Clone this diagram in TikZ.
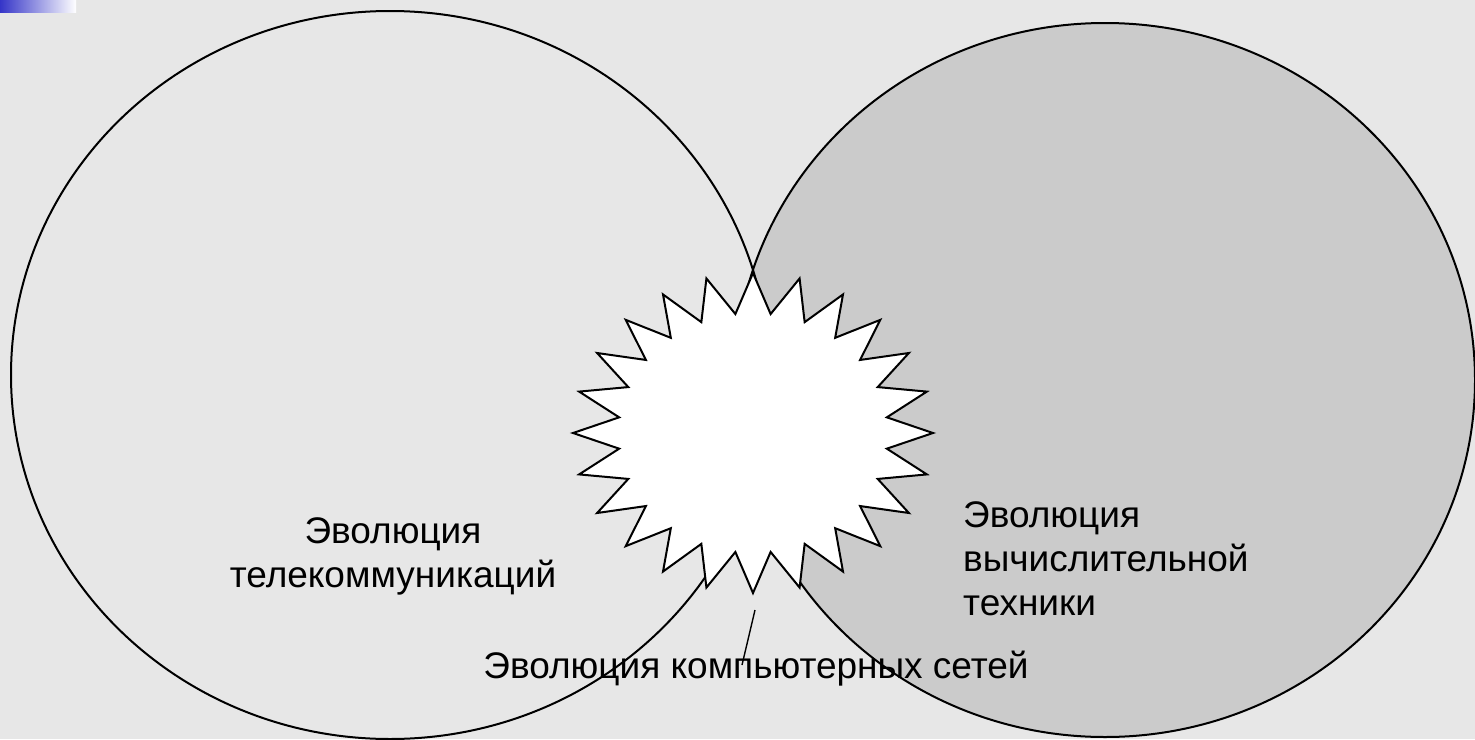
\documentclass[tikz,border=0pt]{standalone}
\usepackage{fontspec}
\setmainfont{Liberation Sans}
\definecolor{bgc}{HTML}{E7E7E7}
\definecolor{rightc}{HTML}{CBCBCB}
\definecolor{barblue}{HTML}{3535C8}
\begin{document}
\begin{tikzpicture}[x=1pt,y=-1pt,
  outline/.style={draw=black,line width=2pt},
  label/.style={inner sep=0pt,font=\fontsize{37}{44}\selectfont},
  starline/.style={draw=black,fill=white,line width=2pt,line join=miter}]
\useasboundingbox (0,0) rectangle (1475,739);
\fill[bgc] (0,0) rectangle (1475,739);
\shade[left color=barblue,right color=white] (0,0) rectangle (76,12);
% circles
\fill[rightc] (1105,380) ellipse [x radius=370, y radius=357];
\draw[outline] (390,375) ellipse [x radius=379, y radius=364];
\draw[outline] (1105,380) ellipse [x radius=370, y radius=357];
% star
\coordinate (sc) at (753,433);
\begin{scope}[shift={(sc)}]
\draw[starline] (90:180 and 160)
  \foreach \i in {0,...,23} { -- ({97.5+15*\i}:135 and 120) -- ({105+15*\i}:180 and 160) } -- cycle;
\end{scope}
% labels
\node[label,anchor=north,align=center] (tel) at (393,517) {Эволюция\\телекоммуникаций};
\node[label,anchor=north west,align=left] (comp) at (963,501) {Эволюция\\вычислительной\\техники};
\node[label,anchor=base] (net) at (756,678) {Эволюция компьютерных сетей};
\coordinate (lt) at (755,610);
\coordinate (lb) at (742,665);
\draw[line width=1.4pt] (lt) -- (lb);
\end{tikzpicture}
\end{document}
